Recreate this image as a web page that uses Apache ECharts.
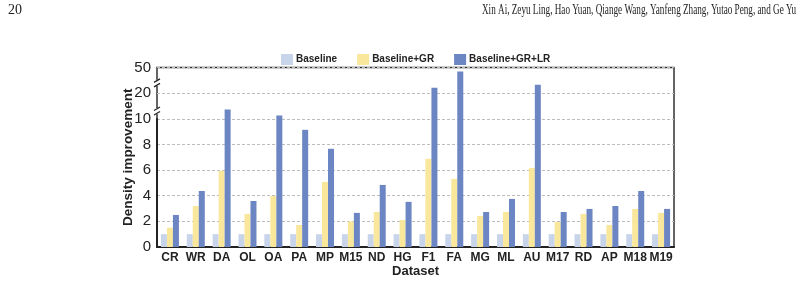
<!DOCTYPE html>
<html>
<head>
<meta charset="utf-8">
<script src="https://cdn.jsdelivr.net/npm/echarts@6/dist/echarts.min.js"></script>
<style>
  html, body { margin: 0; padding: 0; background: #fff; }
  #chart { width: 801px; height: 284px; }
</style>
</head>
<body>
<div id="chart"></div>
<script>
// Density improvement per dataset
var datasets = ['CR', 'WR', 'DA', 'OL', 'OA', 'PA', 'MP', 'M15', 'ND', 'HG',
                'F1', 'FA', 'MG', 'ML', 'AU', 'M17', 'RD', 'AP', 'M18', 'M19'];
var baseline = [1, 1, 1, 1, 1, 1, 1, 1, 1, 1, 1, 1, 1, 1, 1, 1, 1, 1, 1, 1];
var baselineGR = [1.51, 3.2, 5.94, 2.58, 3.98, 1.72, 5.08, 1.99, 2.73, 2.1,
                  6.88, 5.31, 2.42, 2.73, 6.17, 1.95, 2.58, 1.72, 2.97, 2.66];
var baselineGRLR = [2.5, 4.37, 13.6, 3.59, 11.3, 9.14, 7.66, 2.66, 4.84, 3.52,
                    26.3, 45.3, 2.73, 3.75, 29.8, 2.73, 2.97, 3.2, 4.37, 2.97];
var yTicks = [0, 2, 4, 6, 8, 10, 20, 50];
var breakMarks = [13, 32];
var pageNo = '20';
var authors = 'Xin Ai, Zeyu Ling, Hao Yuan, Qiange Wang, Yanfeng Zhang, Yutao Peng, and Ge Yu';

function show_density_chart(chart_id) {
  var chartDom = document.getElementById(chart_id);
  var myChart = echarts.init(chartDom);
  var option;

  var boldFont = 'Liberation Sans';
  var gridLeft = 157;

  option = {
    animation: false,
    graphic: [
      {
        type: 'text', x: 8, y: 3,
        style: { text: pageNo, font: '14px "Liberation Serif"', fill: '#222' }
      },
      {
        type: 'text', x: 482, y: 3, scaleX: 0.654,
        style: { text: authors, font: '14px "Liberation Serif"', fill: '#222' }
      }
    ],
    legend: {
      top: 49,
      left: 276,
      itemWidth: 12,
      itemHeight: 11,
      itemGap: 20,
      icon: 'rect',
      textStyle: { fontFamily: boldFont, fontWeight: 'bold', fontSize: 10, color: '#222', padding: [0, 0, 0, -2] }
    },
    grid: {
      left: gridLeft,
      right: 127,
      top: 67.5,
      bottom: 37,
      outerBoundsMode: 'none',
      show: true,
      borderColor: '#333',
      borderWidth: 1.5
    },
    xAxis: [
      {
        type: 'category',
        data: datasets,
        name: 'Dataset',
        nameLocation: 'middle',
        nameGap: 18,
        nameMoveOverlap: false,
        nameTextStyle: { fontFamily: boldFont, fontWeight: 'bold', fontSize: 13, color: '#222' },
        axisLine: { lineStyle: { color: '#222', width: 2 } },
        axisTick: { show: false },
        axisLabel: { fontFamily: boldFont, fontWeight: 'bold', fontSize: 12, color: '#222', margin: 5, interval: 0 }
      }
    ],
    yAxis: [
      {
        type: 'value',
        min: 0,
        max: 50,
        breaks: [
          { start: 10, end: 20, gap: 2 },
          { start: 20, end: 50, gap: 2 }
        ],
        breakArea: { show: false },
        name: 'Density improvement',
        nameLocation: 'middle',
        nameGap: 22,
        nameMoveOverlap: false,
        nameTextStyle: { fontFamily: boldFont, fontWeight: 'bold', fontSize: 13.5, color: '#222' },
        axisLine: { show: true, lineStyle: { color: '#222', width: 2 } },
        axisTick: { show: false, customValues: yTicks },
        axisLabel: { customValues: yTicks, fontFamily: boldFont, fontSize: 15, color: '#222', margin: 6 },
        splitLine: { lineStyle: { color: '#bdbdbd', type: [3, 2], width: 1 } }
      }
    ],
    series: [
      {
        name: 'Baseline',
        type: 'bar',
        barWidth: 6,
        barGap: '0%',
        itemStyle: { color: '#c8d4ea' },
        data: baseline
      },
      {
        name: 'Baseline+GR',
        type: 'bar',
        barWidth: 6,
        barGap: '0%',
        itemStyle: { color: '#f9e79b' },
        data: baselineGR
      },
      {
        name: 'Baseline+GR+LR',
        type: 'bar',
        barWidth: 6,
        barGap: '0%',
        itemStyle: { color: '#6c85c3' },
        data: baselineGRLR
      }
    ]
  };

  option && myChart.setOption(option);

  // small "//" break marks on the y axis line
  var marks = breakMarks.map(function (v) {
    var y = myChart.convertToPixel({ yAxisIndex: 0 }, v);
    return {
      type: 'group',
      children: [
        { type: 'rect', shape: { x: gridLeft - 3, y: y - 3, width: 6, height: 6 }, style: { fill: '#fff' } },
        { type: 'line', shape: { x1: gridLeft - 3, y1: y - 0.5, x2: gridLeft + 3, y2: y - 4 }, style: { stroke: '#222', lineWidth: 1.2 } },
        { type: 'line', shape: { x1: gridLeft - 3, y1: y + 4, x2: gridLeft + 3, y2: y + 0.5 }, style: { stroke: '#222', lineWidth: 1.2 } }
      ]
    };
  });
  myChart.setOption({ graphic: option.graphic.concat(marks) });

  window.addEventListener('resize', function () { myChart.resize(); });
}

show_density_chart('chart');
</script>
</body>
</html>
